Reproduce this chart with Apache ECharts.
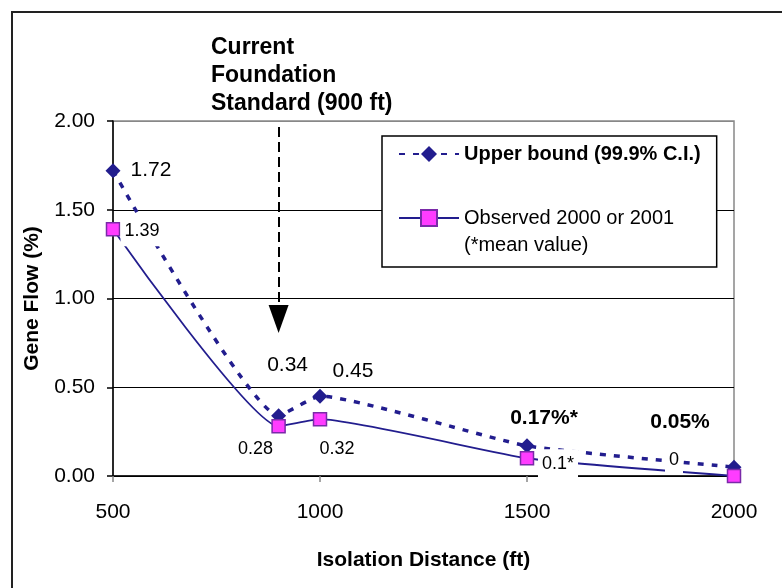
<!DOCTYPE html>
<html>
<head>
<meta charset="utf-8">
<script src="https://cdn.jsdelivr.net/npm/echarts@6/dist/echarts.min.js"></script>
<style>html,body{margin:0;padding:0;background:#fff;}#c{width:782px;height:588px;}</style>
</head>
<body>
<div id="c"></div>
<script>
// ---- data ----
const distances = [500, 900, 1000, 1500, 2000];
const upperBound = [1.72, 0.34, 0.45, 0.17, 0.05];
const observed = [1.39, 0.28, 0.32, 0.10, 0.00];
const upperLabels = ['1.72', '0.34', '0.45', '0.17%*', '0.05%'];
const observedLabels = ['1.39', '0.28', '0.32', '0.1*', '0'];
const upperName = 'Upper bound (99.9% C.I.)';
const observedName = 'Observed 2000 or 2001';
const standardFt = 900;

// ---- styling (label placement, pixels) ----
const upperLabelOffsets = [[38, 0], [9, -50], [33, -25], [17, -28], [-54, -45]];
const upperLabelBold = [false, false, false, true, true];
const obsLabelOffsets = [[29, 2], [-23, 23], [17, 30], [31, 6], [-60, -16]];
const obsLabelBoxed = [true, false, false, true, true];

const FONT = "'Liberation Sans', Arial, sans-serif";
const NAVY = '#221d8e';

const upperData = distances.map((d, i) => ({
  value: [d, upperBound[i]],
  label: {
    show: true, position: 'inside', offset: upperLabelOffsets[i],
    formatter: upperLabels[i], fontSize: 21, fontFamily: FONT, color: '#000',
    fontWeight: upperLabelBold[i] ? 'bold' : 'normal'
  }
}));
const obsData = distances.map((d, i) => ({
  value: [d, observed[i]],
  label: {
    show: true, position: 'inside', offset: obsLabelOffsets[i],
    formatter: observedLabels[i], fontSize: 18, fontFamily: FONT, color: '#000',
    backgroundColor: obsLabelBoxed[i] ? '#fff' : 'transparent', padding: [6, 4, 6, 4]
  }
}));

const chart = echarts.init(document.getElementById('c'), null, {renderer: 'canvas'});
chart.setOption({
  animation: false,
  backgroundColor: '#fff',
  textStyle: {fontFamily: FONT},
  grid: {left: 113, right: 48, top: 121, bottom: 112, show: true, borderColor: '#888', borderWidth: 1.5, backgroundColor: 'transparent'},
  legend: {
    orient: 'vertical', left: 382, top: 136,
    padding: [8, 16, 39, 16],
    itemWidth: 60, itemHeight: 20, itemGap: 44,
    backgroundColor: '#fff', borderColor: '#000', borderWidth: 1.5,
    textStyle: {fontSize: 20, fontFamily: FONT, color: '#000'},
    data: [
      {name: upperName, textStyle: {fontWeight: 'bold'}},
      {name: observedName}
    ]
  },
  xAxis: {
    type: 'value', min: 500, max: 2000, interval: 500,
    name: 'Isolation Distance (ft)', nameLocation: 'middle', nameGap: 74,
    nameTextStyle: {fontSize: 21, fontWeight: 'bold', color: '#000', fontFamily: FONT},
    axisLine: {lineStyle: {color: '#000', width: 1.5}},
    axisTick: {show: true, length: 6, lineStyle: {color: '#888', width: 1.5}},
    axisLabel: {fontSize: 21, color: '#000', margin: 26, fontFamily: FONT, formatter: v => String(v)},
    splitLine: {show: false}
  },
  yAxis: {
    type: 'value', min: 0, max: 2, interval: 0.5,
    name: 'Gene Flow (%)', nameLocation: 'middle', nameGap: 70,
    nameTextStyle: {fontSize: 21, fontWeight: 'bold', color: '#000', fontFamily: FONT},
    axisLine: {show: true, lineStyle: {color: '#000', width: 1.5}},
    axisTick: {show: true, length: 6, lineStyle: {color: '#000', width: 1.5}},
    axisLabel: {fontSize: 21, color: '#000', margin: 18, fontFamily: FONT, formatter: v => v.toFixed(2)},
    splitLine: {show: true, lineStyle: {color: ['#000', '#000', '#000', '#000', '#888'], width: 1.2}}
  },
  series: [
    {
      name: upperName, type: 'line', data: upperData, smooth: 0.15,
      symbol: 'diamond', symbolSize: 15,
      itemStyle: {color: NAVY},
      lineStyle: {color: NAVY, width: 3.5, type: [6, 8]},
      emphasis: {disabled: true},
      z: 2,
      markLine: {
        silent: true, animation: false,
        symbol: ['none', 'triangle'], symbolSize: [20, 28],
        label: {show: false},
        lineStyle: {color: '#000', width: 2, type: [10, 5]},
        emphasis: {disabled: true},
        data: [[{coord: [standardFt, 1.966]}, {coord: [standardFt, 0.885]}]]
      }
    },
    {
      name: observedName, type: 'line', data: obsData, smooth: 0.15,
      symbol: 'rect', symbolSize: 13,
      itemStyle: {color: '#ff3cff', borderColor: '#7a2aa8', borderWidth: 1.5},
      lineStyle: {color: NAVY, width: 1.8},
      emphasis: {disabled: true},
      z: 3
    }
  ],
  graphic: [
    {type: 'rect', z: 100, silent: true, shape: {x: 12, y: 12, width: 900, height: 900},
     style: {fill: 'none', stroke: '#222', lineWidth: 2}},
    {type: 'text', z: 100, silent: true, x: 211, y: 34,
     style: {text: 'Current\nFoundation\nStandard (900 ft)', fontSize: 23, fontWeight: 'bold', fontFamily: FONT,
             lineHeight: 28, verticalAlign: 'top', fill: '#000'}},
    {type: 'text', z: 100, silent: true, x: 464, y: 245,
     style: {text: '(*mean value)', fontSize: 20, fontFamily: FONT, verticalAlign: 'middle', fill: '#000'}}
  ]
});
</script>
</body>
</html>
